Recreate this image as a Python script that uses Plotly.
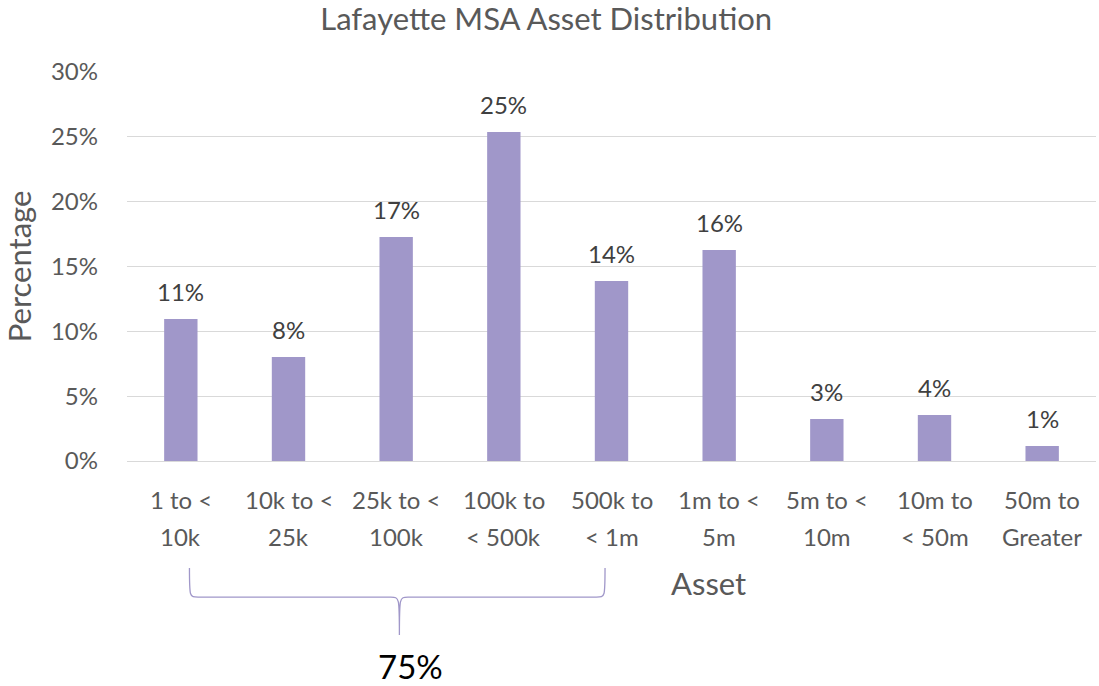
import plotly.graph_objects as go

categories = ["1 to < 10k", "10k to < 25k", "25k to < 100k", "100k to < 500k",
              "500k to < 1m", "1m to < 5m", "5m to < 10m", "10m to < 50m", "50m to Greater"]
label_top = ["1 to <", "10k to <", "25k to <", "100k to", "500k to",
             "1m to <", "5m to <", "10m to", "50m to"]
label_bottom = ["10k", "25k", "100k", "< 500k", "< 1m", "5m", "10m", "< 50m", "Greater"]
share = [0.1095, 0.0802, 0.1727, 0.2537, 0.1388, 0.1627, 0.0324, 0.0355, 0.0116]
brace_total = "75%"

grey = "#595959"
bar_color = "#a097c9"
font = "Lato, 'Open Sans', sans-serif"

fig = go.Figure()
fig.add_trace(go.Bar(
    x=list(range(len(categories))), y=share, width=0.31,
    marker_color=bar_color, marker_line_width=0,
    cliponaxis=False, hovertext=categories,
))

# value labels sit a little higher above the bars than plotly's default
for i, v in enumerate(share):
    fig.add_annotation(x=i, y=v, text=f"{v:.0%}", showarrow=False, yanchor="bottom",
                       yshift=11, font=dict(size=24, color="#404040"))

fig.update_layout(
    width=1099, height=686,
    paper_bgcolor="white", plot_bgcolor="white",
    margin=dict(l=127, r=3, t=72, b=225, autoexpand=False),
    title=dict(text="Lafayette MSA Asset Distribution", x=0.497, xanchor="center",
               y=0.972, yanchor="middle",
               font=dict(size=31, color=grey, family=font)),
    font=dict(family=font, color=grey),
    showlegend=False,
)
fig.update_yaxes(range=[0, 0.30], dtick=0.05, tickformat=".0%", automargin=False,
                 gridcolor="#d9d9d9", gridwidth=1.3, zeroline=False,
                 tickfont=dict(size=24, color=grey), ticks="", ticklen=0,
                 ticklabelstandoff=28,
                 title=dict(text="Percentage", font=dict(size=31, color=grey), standoff=12))
fig.update_xaxes(range=[-0.5, len(categories) - 0.5], showticklabels=False, automargin=False,
                 showline=True, linecolor="#d9d9d9", linewidth=1.3, showgrid=False)

# two-line category labels
for i, (a, b) in enumerate(zip(label_top, label_bottom)):
    fig.add_annotation(x=i, y=-0.1, xref="x", yref="paper", text=a, showarrow=False,
                       yanchor="middle", font=dict(size=24, color=grey))
    fig.add_annotation(x=i, y=-0.193, xref="x", yref="paper", text=b, showarrow=False,
                       yanchor="middle", font=dict(size=24, color=grey))

fig.add_annotation(x=4.9, y=-0.313, xref="x", yref="paper", text="Asset", showarrow=False,
                   yanchor="middle", font=dict(size=31, color=grey))

# curly brace grouping the first five categories
x0, x1, xm = 0.08, 3.94, 2.03
yt, yh, yb = -0.275, -0.350, -0.447
path = (f"M {x0} {yt} C {x0} {yh} {x0} {yh} {x0 + 0.08} {yh} "
        f"L {xm - 0.08} {yh} C {xm} {yh} {xm} {yh} {xm} {yb} "
        f"C {xm} {yh} {xm} {yh} {xm + 0.08} {yh} "
        f"L {x1 - 0.08} {yh} C {x1} {yh} {x1} {yh} {x1} {yt}")
fig.add_shape(type="path", path=path, xref="x", yref="paper",
              line=dict(color="#a097c9", width=1.3))
fig.add_annotation(x=xm + 0.1, y=-0.528, xref="x", yref="paper", text=brace_total,
                   showarrow=False, yanchor="middle", font=dict(size=33, color="black"))

fig.write_html("out.html", config={"displayModeBar": False},
               post_script="document.body.style.margin='0';")
